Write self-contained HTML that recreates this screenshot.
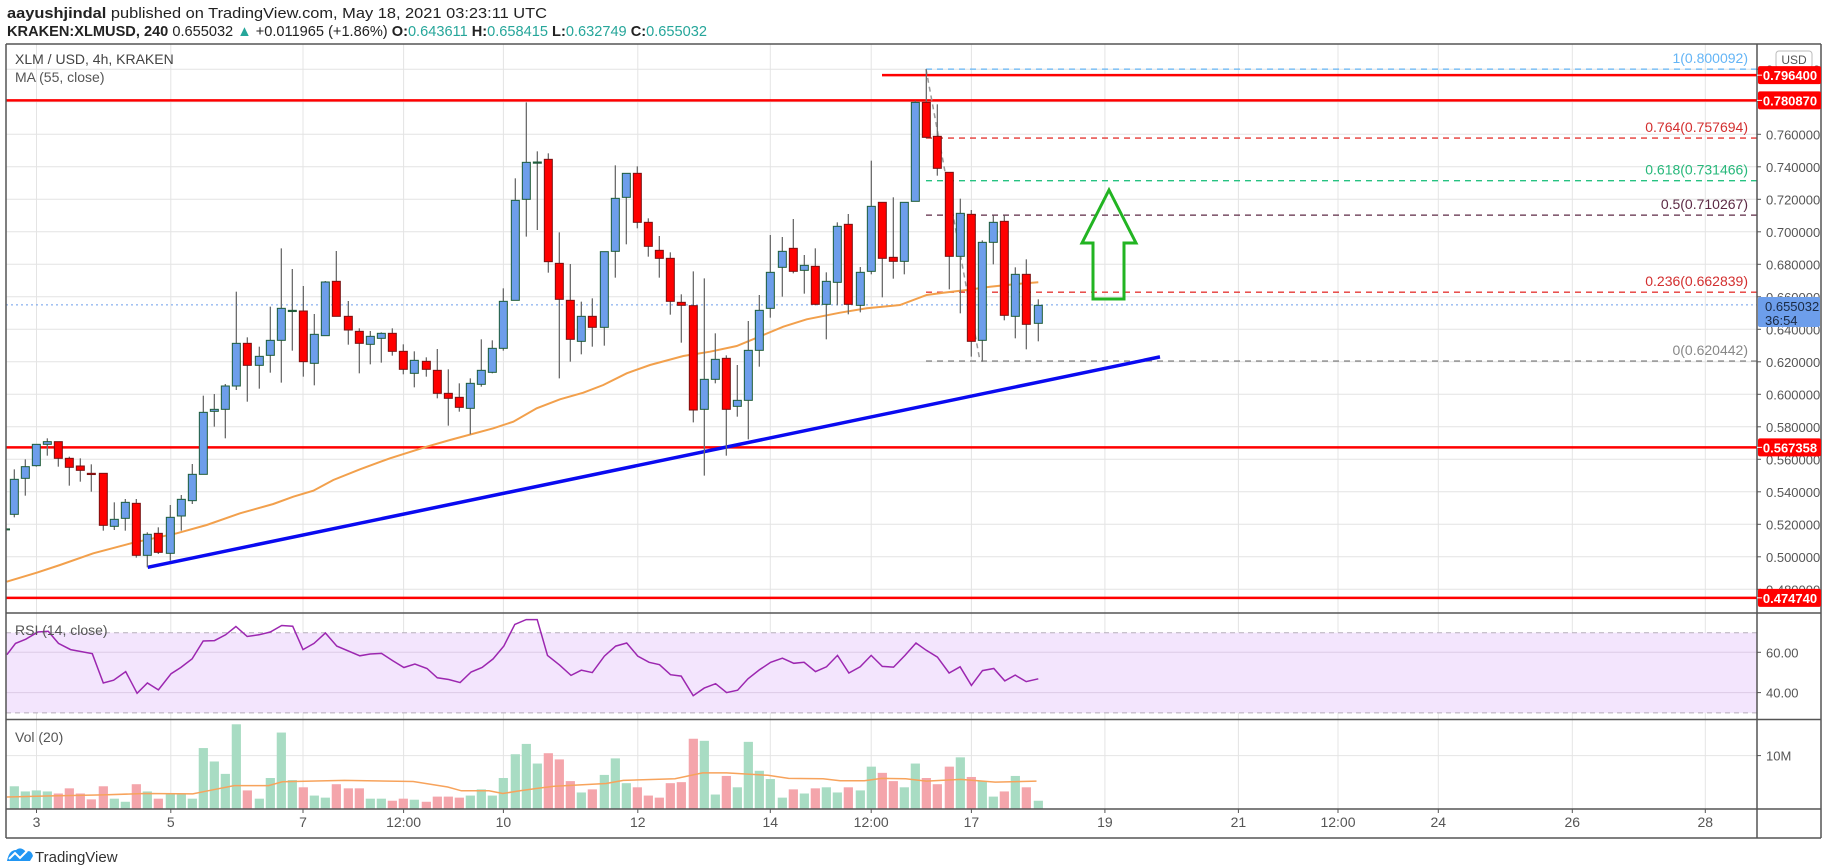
<!DOCTYPE html>
<html><head><meta charset="utf-8">
<style>
html,body{margin:0;padding:0;background:#fff;}
svg{display:block;font-family:"Liberation Sans",sans-serif;}
</style></head>
<body>
<svg id="s" width="1828" height="867" viewBox="0 0 1828 867" xmlns="http://www.w3.org/2000/svg">
<rect width="1828" height="867" fill="#fff"/>
<text x="7" y="18" font-size="15" fill="#222" textLength="540" lengthAdjust="spacingAndGlyphs"><tspan font-weight="bold">aayushjindal</tspan> published on TradingView.com, May 18, 2021 03:23:11 UTC</text>
<text x="7" y="36" font-size="15" fill="#222" textLength="700" lengthAdjust="spacingAndGlyphs"><tspan font-weight="bold">KRAKEN:XLMUSD, 240</tspan> 0.655032 <tspan fill="#26a69a">▲</tspan> +0.011965 (+1.86%) <tspan font-weight="bold">O:</tspan><tspan fill="#26a69a">0.643611</tspan> <tspan font-weight="bold">H:</tspan><tspan fill="#26a69a">0.658415</tspan> <tspan font-weight="bold">L:</tspan><tspan fill="#26a69a">0.632749</tspan> <tspan font-weight="bold">C:</tspan><tspan fill="#26a69a">0.655032</tspan></text>
<g id="g"></g>
</svg>
<script>
var S='';
function L(x1,y1,x2,y2,c,w,extra){S+='<line x1="'+x1+'" y1="'+y1+'" x2="'+x2+'" y2="'+y2+'" stroke="'+c+'" stroke-width="'+(w||1)+'" '+(extra||'')+'/>';}
function R(x,y,w,h,f,extra){S+='<rect x="'+x+'" y="'+y+'" width="'+w+'" height="'+h+'" fill="'+f+'" '+(extra||'')+'/>';}
function T(x,y,t,sz,c,extra){S+='<text x="'+x+'" y="'+y+'" font-size="'+sz+'" fill="'+c+'" '+(extra||'')+'>'+t+'</text>';}
function P(pts,c,w,extra){S+='<polyline fill="none" stroke="'+c+'" stroke-width="'+w+'" points="'+pts.map(function(p){return p[0].toFixed(1)+','+p[1].toFixed(1)}).join(' ')+'" '+(extra||'')+'/>';}
var AX=1757, RF=1821, LF=6, TOP=44, MB=613, RB=719.5, VB=809, TB=838;
function py(p){return 134.3+(0.76-p)*1625;}
var vx=[36.5,170.8,303,403.6,503.4,637.8,770.3,871.2,971.4,1104.9,1238.4,1338,1438.3,1572.3,1705.3];
vx.forEach(function(x){L(x,TOP,x,VB,'#e4e4e4',1);});
for(var p=0.80;p>0.46;p-=0.02){var y=py(p);if(y>TOP&&y<MB)L(LF,y,AX,y,'#e4e4e4',1);}
var r70=632.7,r30=712.9;
R(LF,r70,AX-LF,r30-r70,'#f3e5fd');
L(LF,652.3,AX,652.3,'#dccbe6',1);L(LF,692.6,AX,692.6,'#dccbe6',1);
L(LF,r70,AX,r70,'#b6aebb',1,'stroke-dasharray="5,4"');L(LF,r30,AX,r30,'#b6aebb',1,'stroke-dasharray="5,4"');
L(LF,755.6,AX,755.6,'#e4e4e4',1);
L(LF,py(0.78087),AX,py(0.78087),'#ff0000',2.5);
L(882,py(0.7964),AX,py(0.7964),'#ff0000',2.5);
L(LF,py(0.567358),AX,py(0.567358),'#ff0000',2.5);
L(LF,py(0.47474),AX,py(0.47474),'#ff0000',2.5);
var fx=926;
var fib=[[0.800092,'#64b5f6','1(0.800092)'],[0.757694,'#e53935','0.764(0.757694)'],[0.731466,'#26c281','0.618(0.731466)'],[0.710267,'#5d2a45','0.5(0.710267)'],[0.662839,'#e53935','0.236(0.662839)'],[0.620442,'#888','0(0.620442)']];
fib.forEach(function(f){var y=py(f[0]);L(fx,y,AX,y,f[1],1.3,'stroke-dasharray="6,5"');T(1748,y-6,f[2],14,f[1]=='#26c281'?'#26b87a':(f[1]=='#e53935'?'#d32f2f':f[1]),'text-anchor="end"');});
L(926,69,980,361,'#999',1.5,'stroke-dasharray="5,4"');
L(LF,304.9,AX,304.9,'#6d9eeb',1,'stroke-dasharray="2,3"');
var ma=[],m4=[[20,1505],[110,1478],[180,1455],[280,1420],[400,1388],[530,1360],[620,1335],[720,1300],[820,1272],[880,1250],[940,1232],[1000,1200],[1080,1168]],
m5=[[120,1135],[230,1100],[300,1080],[430,1045],[490,1025],[560,985],[630,958],[700,938],[760,915],[830,880],[900,855],[1000,828],[1080,815]],
m6=[[110,798],[190,765],[250,740],[320,718],[420,698],[500,685],[600,675],[680,645],[730,638],[800,630],[870,620],[950,612],[1015,607]];
m4.forEach(function(p){ma.push([p[0]/3,80+p[1]/3]);});m5.forEach(function(p){ma.push([350+p[0]/3,80+p[1]/3]);});m6.forEach(function(p){ma.push([700+p[0]/3,80+p[1]/3]);});
P(ma,'#f2a04c',2);
L(147.7,567.3,1160,356.9,'#0a0af0',3.5);
var C=[];
function add(off,arr){arr.forEach(function(a){C.push([off+a[0]/3,80+a[1]/3,80+a[2]/3,80+a[3]/3,80+a[4]/3,a[5]]);});}
add(0,[[43,1168,1198,1303,1312,'b'],[76,1138,1160,1195,1247,'b'],[109,1093,1093,1157,1160,'b'],[142,1075,1085,1093,1127,'b'],[175,1085,1085,1135,1160,'r'],[208,1130,1135,1162,1217,'r'],[241,1135,1158,1171,1205,'r'],[274,1153,1180,1182,1235,'r'],[310,1180,1180,1336,1352,'r'],[343,1267,1318,1339,1350,'b'],[376,1257,1267,1315,1352,'b'],[409,1257,1270,1426,1433,'r'],[442,1357,1363,1426,1462,'b'],[475,1342,1360,1417,1422,'r'],[511,1275,1312,1420,1442,'b'],[544,1245,1258,1308,1352,'b'],[577,1152,1183,1262,1272,'b'],[610,947,997,1183,1183,'b'],[643,942,988,994,1040,'b'],[676,912,918,988,1075,'b'],[709,635,790,918,930,'b'],[742,772,790,856,965,'r'],[778,800,829,856,926,'b'],[811,680,781,826,878,'b'],[844,505,685,781,908,'b'],[877,567,691,694,812,'g'],[910,618,693,845,890,'r'],[943,702,763,850,916,'b'],[976,603,606,767,767,'b'],[1009,513,604,709,709,'r'],[1045,663,709,750,794,'r'],[1078,745,754,790,880,'r']]);
add(350,[[61,753,769,793,853,'b'],[94,757,760,775,848,'b'],[127,745,760,814,827,'r'],[160,793,814,868,883,'r'],[193,814,841,880,922,'b'],[229,832,844,868,890,'r'],[262,807,871,940,955,'r'],[295,868,940,955,1037,'r'],[328,910,952,982,995,'r'],[361,895,910,985,1063,'b'],[394,778,871,913,920,'b'],[427,781,805,877,880,'b'],[460,625,664,805,812,'b'],[496,295,361,661,661,'b'],[529,67,247,358,470,'b'],[562,214,246,248,450,'g'],[595,220,238,545,578,'r'],[628,457,550,658,895,'r'],[661,552,661,778,845,'r'],[694,665,709,784,823,'b'],[727,655,709,742,800,'r'],[763,515,515,742,797,'b'],[796,256,355,514,593,'b'],[829,280,280,352,493,'b'],[862,259,280,427,445,'r'],[895,415,427,499,530,'r'],[928,468,511,535,593,'r'],[961,517,535,664,704,'r'],[994,643,667,676,788,'r'],[1030,574,677,990,1027,'r']]);
add(700,[[13,595,898,988,1187,'b'],[46,760,838,898,910,'b'],[79,826,835,988,1127,'r'],[112,855,961,979,1010,'b'],[145,723,811,961,1078,'b'],[178,645,691,811,860,'b'],[211,465,577,685,713,'b'],[247,471,514,562,650,'b'],[280,417,505,574,580,'r'],[313,525,556,571,641,'b'],[346,505,559,673,676,'r'],[379,577,604,673,778,'b'],[412,427,439,607,676,'b'],[445,402,433,673,703,'r'],[481,561,577,676,697,'b'],[514,242,379,574,583,'b'],[547,367,367,535,652,'r'],[580,352,532,544,596,'r'],[613,367,367,544,583,'b'],[646,62,67,364,364,'b'],[679,-32,67,172,175,'r'],[712,73,169,265,287,'r'],[748,277,277,529,628,'r'],[781,356,400,529,700,'b'],[814,390,403,784,830,'r'],[847,481,487,781,845,'b'],[880,406,427,487,553,'b'],[913,406,424,706,721,'r'],[946,562,583,709,775,'b'],[979,538,583,733,808,'r'],[1015,658,676,730,784,'b']]);
var v7=[570,585,582,585,591,576,591,608,570,606,615,564,585,606,591,591,606,459,498,534,390,582,606,546,414,552,573,597,603,564,576,576,606,606,612,606,609,615,600,600,603,597,579,597,546,477,447,504];
var v8=[474,492,555,588,579,537,489,561,573,597,603,561,558,432,438,594,540,573,441,525,549,603,579,591,576,573,588,573,582,513,531,555,573,504,546,564,513,486,543,555,600,585,540,573,612];
var vv=v7.concat(v8);
C.forEach(function(c,i){var h=(636-vv[i])/2.904;R(c[0]-4.6,VB-h,9.2,h,c[5]=='r'?'#f4a5ab':'#a8dcc3');});
var vm=[],a7=[[20,601],[150,598],[300,595],[420,591],[560,592],[620,580],[680,568],[780,568],[820,557],[900,555],[1000,553],[1200,556],[1300,572],[1340,583],[1420,583],[1460,591],[1510,583],[1568,575]],
a8=[[100,570],[250,562],[300,553],[450,548],[530,531],[600,531],[720,538],[780,547],[880,548],[930,554],[1000,554],[1050,547],[1120,548],[1180,555],[1280,550],[1380,558],[1500,555]];
a7.forEach(function(p){vm.push([p[0]/2.904,590+p[1]/2.904]);});a8.forEach(function(p){vm.push([520+p[0]/2.904,590+p[1]/2.904]);});
P(vm,'#f7a35c',1.5);
L(LF,529.4,LF+4,529.4,'#1e5c3a',2);
C.forEach(function(c){var x=c[0];L(x,c[1],x,c[4],'#6b6b6b',1.3);var col=c[5]=='r'?'#ff0000':(c[5]=='g'?'#1e5c3a':'#6d9eeb');var h=Math.max(c[3]-c[2],1.2);R(x-4,c[2],8,h,col,'stroke="'+(c[5]=='r'?'#7a1010':'#1e5c3a')+'" stroke-width="1"');});
var rs=[],r7=[[20,188],[45,155],[75,143],[110,122],[140,120],[170,155],[205,173],[268,185],[300,270],[330,262],[365,237],[398,300],[428,270],[460,290],[497,243],[525,225],[558,200],[590,148],[623,147],[655,130],[685,106],[718,135],[752,130],[785,122],[818,103],[850,105],[880,173],[912,155],[945,125],[978,163],[1045,191],[1075,186],[1108,184],[1140,205],[1173,225],[1205,215],[1240,228],[1270,255],[1303,260],[1336,269],[1368,238],[1400,225],[1432,200],[1463,163],[1495,100],[1528,86],[1560,86]],
r8=[[50,86],[80,190],[115,218],[148,248],[178,233],[210,240],[245,192],[278,163],[310,154],[342,192],[375,210],[405,217],[437,246],[468,250],[503,307],[535,285],[568,272],[600,298],[632,291],[662,258],[695,232],[728,210],[762,198],[795,213],[825,210],[858,237],[890,223],[922,190],[955,241],[988,223],[1020,190],[1052,222],[1085,224],[1118,190],[1150,154],[1180,175],[1212,195],[1246,241],[1278,223],[1311,277],[1343,234],[1376,228],[1408,264],[1438,247],[1470,266],[1505,258]];
r7.forEach(function(p){rs.push([p[0]/2.904,590+p[1]/2.904]);});r8.forEach(function(p){rs.push([520+p[0]/2.904,590+p[1]/2.904]);});
P(rs,'#9c27b0',1.5);
S+='<path d="M1093,299 L1124,299 L1124,243 L1136,243 L1109,190 L1082,243 L1093,243 Z" fill="none" stroke="#22b422" stroke-width="3" stroke-linejoin="miter"/>';
R(AX,TOP,RF-AX,TB-TOP,'#fff');
L(LF,TOP,RF,TOP,'#555',1.5);L(LF,TOP,LF,TB,'#555',1.5);L(RF,TOP,RF,TB,'#555',1.5);L(LF,TB,RF,TB,'#555',1.5);
L(AX,TOP,AX,TB,'#555',1.5);
[MB,RB,VB].forEach(function(y){L(LF,y,RF,y,'#555',1.5);});
for(var p=0.80;p>0.47;p-=0.02){var y=py(p);if(y>TOP+5&&y<MB-3){L(AX,y,AX+4,y,'#555',1);T(1766,y+5,p.toFixed(6),13,'#555');}}
[[652.3,'60.00'],[692.6,'40.00']].forEach(function(a){L(AX,a[0],AX+4,a[0],'#555',1);T(1766,a[0]+5,a[1],13,'#555');});
L(AX,755.6,AX+4,755.6,'#555',1);T(1766,760.6,'10M',13,'#555');
R(1776,51,36,17,'#fff','rx="3" stroke="#bbb"');T(1794,64,'USD',12,'#555','text-anchor="middle"');
function box(y,t,c){R(AX+1,y-9,63,18,c,'rx="2"');L(AX,y,AX+5,y,'#fff',1);T(AX+33,y+5,t,13,'#fff','font-weight="bold" text-anchor="middle"');}
box(py(0.7964),'0.796400','#ff0000');box(py(0.78087),'0.780870','#ff0000');box(py(0.567358),'0.567358','#ff0000');box(py(0.47474),'0.474740','#ff0000');
R(AX+1,297,62,30,'#6d9eeb','rx="2"');T(1765,311,'0.655032',13,'#1a2a44');T(1765,325,'36:54',13,'#1a2a44');
var tl=[[36.5,'3'],[170.8,'5'],[303,'7'],[403.6,'12:00'],[503.4,'10'],[637.8,'12'],[770.3,'14'],[871.2,'12:00'],[971.4,'17'],[1104.9,'19'],[1238.4,'21'],[1338,'12:00'],[1438.3,'24'],[1572.3,'26'],[1705.3,'28']];
tl.forEach(function(a){L(a[0],VB,a[0],VB+4,'#555',1);T(a[0],827,a[1],14,'#555','text-anchor="middle"');});
T(15,64,'XLM / USD, 4h, KRAKEN',14,'#444');
T(15,82,'MA (55, close)',14,'#555');
T(15,635,'RSI (14, close)',14,'#555');
T(15,742,'Vol (20)',14,'#555');
S+='<path d="M7,861 Q9,850 16,850 Q21,846 26,852 Q31,849 33,856 L30,861 Z" fill="#2196f3"/>';
S+='<path d="M9,859 L15,853 L20,858 L27,851" fill="none" stroke="#fff" stroke-width="2"/>';
T(35,862,'TradingView',15,'#333');
document.getElementById('g').innerHTML=S;
</script>
</body></html>
